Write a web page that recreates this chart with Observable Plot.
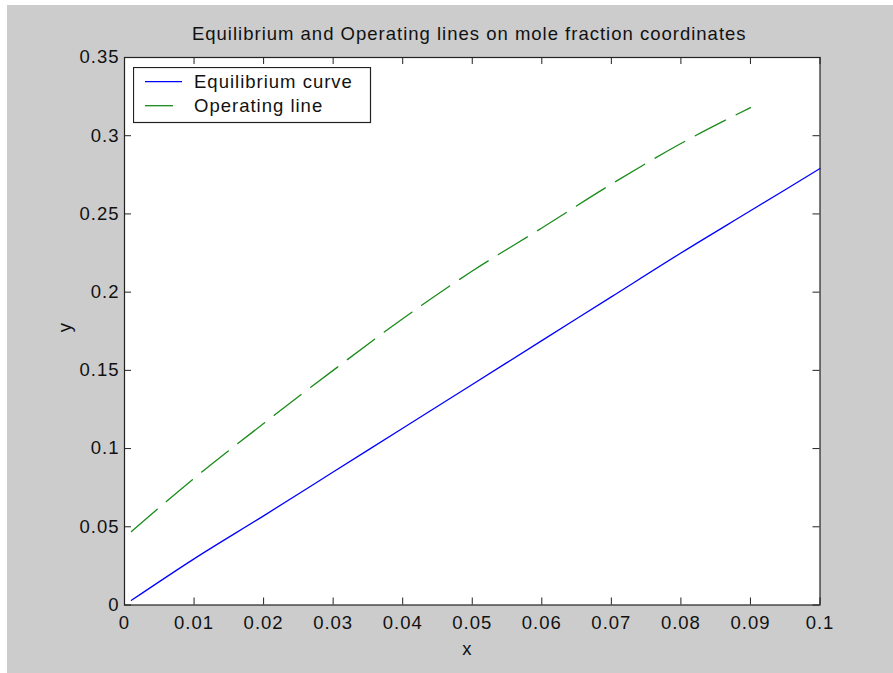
<!DOCTYPE html>
<html>
<head>
<meta charset="utf-8">
<script src="https://cdn.jsdelivr.net/npm/d3@7"></script>
<script src="https://cdn.jsdelivr.net/npm/@observablehq/plot@0.6"></script>
<style>
  html, body { margin: 0; padding: 0; background: #ffffff; }
  #fig { position: relative; padding: 5px 0 0 7px; width: 886px; height: 668px; }
  #legend { position: absolute; left: 133px; top: 67px; }
  #legend text { font-family: "Liberation Sans", Arial, sans-serif; font-size: 18.5px; letter-spacing: 1px; fill: #111; }
</style>
</head>
<body>
<div id="fig"></div>
<script>
// ---- data ----
const eqX = [0.001, 0.01, 0.02, 0.03, 0.04, 0.05, 0.06, 0.07, 0.08, 0.09, 0.1];
const eqY = [0.003, 0.0295, 0.057, 0.085, 0.113, 0.141, 0.169, 0.197, 0.225, 0.252, 0.279];
const opX = [0.001, 0.01, 0.02, 0.03, 0.04, 0.05, 0.06, 0.07, 0.08, 0.09];
const opY = [0.047, 0.081, 0.116, 0.150, 0.183, 0.2135, 0.241, 0.269, 0.295, 0.318];
const xTicks = [0, 0.01, 0.02, 0.03, 0.04, 0.05, 0.06, 0.07, 0.08, 0.09, 0.1];
const yTicks = [0, 0.05, 0.1, 0.15, 0.2, 0.25, 0.3, 0.35];
const seriesNames = ["Equilibrium curve", "Operating line"];
const titleText = "Equilibrium and Operating lines on mole fraction coordinates";
const xLabel = "x";
const yLabel = "y";

const eqRows = eqX.map((x, i) => ({x, y: eqY[i]}));
const opRows = opX.map((x, i) => ({x, y: opY[i]}));

const W = 886, H = 668;
const mL = 117, mR = 73.5, mT = 52, mB = 68.5;
const plotW = W - mL - mR, plotH = H - mT - mB;
const tickLen = 7;
const axisColor = "#222";
const blue = "#0000ff", green = "#1a8c1a";
const dash = "34,12";
const fmt = d => String(+d.toFixed(2));

const chart = Plot.plot({
  width: W, height: H,
  marginLeft: mL, marginRight: mR, marginTop: mT, marginBottom: mB,
  style: "font-family: 'Liberation Sans', Arial, sans-serif; font-size: 18.5px; letter-spacing: 1px; background: #cccccc; overflow: visible; color: #111;",
  x: {domain: [0, 0.1]},
  y: {domain: [0, 0.35]},
  marks: [
    Plot.frame({fill: "white", stroke: "none"}),
    Plot.line(eqRows, {x: "x", y: "y", stroke: blue, strokeWidth: 1.3, curve: "monotone-x"}),
    Plot.line(opRows, {x: "x", y: "y", stroke: green, strokeWidth: 1.3, strokeDasharray: dash, curve: "monotone-x"}),
    // inward ticks on all four sides
    Plot.tickX(xTicks, {x: d => d, insetTop: plotH - tickLen, stroke: axisColor}),
    Plot.tickX(xTicks, {x: d => d, insetBottom: plotH - tickLen, stroke: axisColor}),
    Plot.tickY(yTicks, {y: d => d, insetRight: plotW - tickLen, stroke: axisColor}),
    Plot.tickY(yTicks, {y: d => d, insetLeft: plotW - tickLen, stroke: axisColor}),
    Plot.frame({stroke: axisColor, strokeWidth: 1.2}),
    Plot.axisX({ticks: xTicks, tickSize: 0, tickPadding: 11, tickFormat: fmt, label: null}),
    Plot.axisY({ticks: yTicks, tickSize: 0, tickPadding: 5, tickFormat: fmt, label: null}),
    Plot.text([titleText], {frameAnchor: "top", dy: -23, dx: -3, lineAnchor: "middle", fill: "#111"}),
    Plot.text([xLabel], {frameAnchor: "bottom", dy: 44.5, dx: -5, lineAnchor: "middle", fill: "#111"}),
    Plot.text([yLabel], {frameAnchor: "left", dx: -59, dy: 1, rotate: -90, lineAnchor: "middle", fill: "#111"})
  ]
});
const fig = document.getElementById("fig");
fig.appendChild(chart);

// legend box (inside the axes, top-left)
const ns = "http://www.w3.org/2000/svg";
const lg = document.createElementNS(ns, "svg");
lg.setAttribute("id", "legend");
lg.setAttribute("width", 239);
lg.setAttribute("height", 57);
const colors = [blue, green];
const dashes = [null, dash];
const box = document.createElementNS(ns, "rect");
box.setAttribute("x", 0.5); box.setAttribute("y", 0.5);
box.setAttribute("width", 237); box.setAttribute("height", 55);
box.setAttribute("fill", "white"); box.setAttribute("stroke", axisColor); box.setAttribute("stroke-width", 1.2);
lg.appendChild(box);
seriesNames.forEach((name, i) => {
  const ly = 14.7 + i * 24;
  const ln = document.createElementNS(ns, "line");
  ln.setAttribute("x1", 12); ln.setAttribute("x2", 49);
  ln.setAttribute("y1", ly); ln.setAttribute("y2", ly);
  ln.setAttribute("stroke", colors[i]); ln.setAttribute("stroke-width", 1.3);
  if (dashes[i]) ln.setAttribute("stroke-dasharray", "28,12");
  lg.appendChild(ln);
  const tx = document.createElementNS(ns, "text");
  tx.setAttribute("x", 61); tx.setAttribute("y", ly + 6.5);
  tx.textContent = name;
  lg.appendChild(tx);
});
document.body.appendChild(lg);
</script>
</body>
</html>
